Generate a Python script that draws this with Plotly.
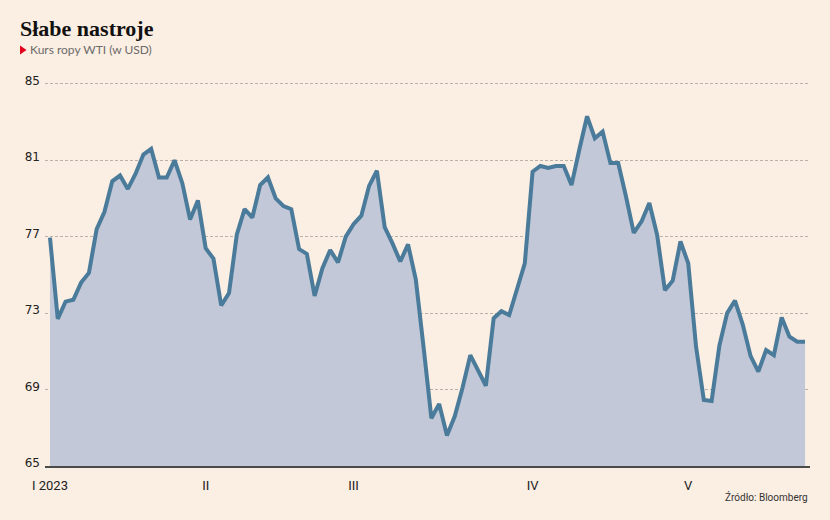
import plotly.graph_objects as go

# WTI crude price (USD), trading days from early Jan 2023 to late May 2023
prices = [
    76.95, 72.7, 73.6, 73.7, 74.6, 75.1, 77.4, 78.3, 79.9, 80.2,
    79.5, 80.3, 81.3, 81.6, 80.1, 80.1, 81.0, 79.8, 77.9, 78.9,
    76.4, 75.85, 73.4, 74.05, 77.1, 78.44, 78.0, 79.7, 80.1, 79.0,
    78.6, 78.44, 76.35, 76.1, 73.9, 75.35, 76.3, 75.65, 77.0, 77.65,
    78.1, 79.66, 80.45, 77.5, 76.65, 75.7, 76.6, 74.75, 71.2, 67.5,
    68.25, 66.6, 67.6, 69.1, 70.8, 70.0, 69.2, 72.73, 73.1, 72.9,
    74.2, 75.6, 80.4, 80.7, 80.6, 80.7, 80.7, 79.7, 81.55, 83.3,
    82.15, 82.5, 80.85, 80.85, 79.1, 77.2, 77.8, 78.76, 77.1, 74.2,
    74.7, 76.75, 75.6, 71.25, 68.45, 68.4, 71.3, 73.0, 73.66, 72.4,
    70.76, 69.94, 71.07, 70.8, 72.77, 71.77, 71.5, 71.5,
]
days = list(range(len(prices)))

month_tick_pos = [0, 20, 39, 62, 82]
month_tick_text = ["I 2023", "II", "III", "IV", "V"]
y_ticks = [65, 69, 73, 77, 81, 85]

BG = "#fbeee2"
FILL = "#c2c8d7"
LINE = "#4b7b9a"

fig = go.Figure()
fig.add_trace(go.Scatter(
    x=days, y=prices, mode="lines",
    line=dict(color=LINE, width=4),
    fill="tozeroy", fillcolor=FILL,
    hoverinfo="skip", showlegend=False,
))

W, H = 830, 520
L, R, T, B = 45, 20, 80, 54
pw, ph = W - L - R, H - T - B

def px_x(p):
    return (p - L) / pw

def px_y(p):
    return (H - B - p) / ph

fig.update_layout(
    width=W, height=H,
    margin=dict(l=L, r=R, t=T, b=B, pad=0),
    paper_bgcolor=BG, plot_bgcolor=BG,
    xaxis=dict(
        range=[-0.64, len(prices) - 1 + 0.64],
        tickmode="array", tickvals=month_tick_pos, ticktext=month_tick_text,
        showgrid=False, zeroline=False,
        showline=True, linecolor="#4a4a4a", linewidth=2,
        ticks="", ticklabelstandoff=6,
        tickfont=dict(family="Liberation Sans Narrow, Roboto, sans-serif", size=13, color="#222"),
    ),
    yaxis=dict(
        range=[65, 85.2],
        tickmode="array", tickvals=y_ticks,
        showgrid=True, gridcolor="#b9b1aa", griddash="3px,2px", gridwidth=1,
        zeroline=False, showline=False, ticks="",
        ticklabelstandoff=4, ticklabelshift=-3,
        tickfont=dict(family="DejaVu Sans, sans-serif", size=12, color="#222"),
    ),
    annotations=[
        dict(text="<b>Słabe nastroje</b>", xref="paper", yref="paper",
             x=px_x(18), y=px_y(29), xanchor="left", yanchor="middle",
             showarrow=False,
             font=dict(family="Liberation Serif, DejaVu Serif, serif", size=22, color="#111")),
        dict(text="Kurs ropy WTI (w USD)", xref="paper", yref="paper",
             x=px_x(28), y=px_y(50), xanchor="left", yanchor="middle",
             showarrow=False,
             font=dict(family="Lato, sans-serif", size=12, color="#6b6b6b")),
        dict(text="Źródło: Bloomberg", xref="paper", yref="paper",
             x=1.0, y=px_y(497), xanchor="right", yanchor="middle",
             showarrow=False,
             font=dict(family="Liberation Sans Narrow, Roboto, sans-serif", size=10, color="#333")),
    ],
    shapes=[
        dict(type="path", xref="paper", yref="paper",
             path=f"M {px_x(20)} {px_y(45.5)} L {px_x(26.5)} {px_y(50)} L {px_x(20)} {px_y(54.5)} Z",
             fillcolor="#e2001a", line=dict(width=0)),
    ],
)

fig.write_html(
    "out.html",
    config={"displayModeBar": False, "staticPlot": True},
    post_script="document.body.style.margin='0';document.body.style.padding='0';"
                "document.body.style.background='" + BG + "';",
)
